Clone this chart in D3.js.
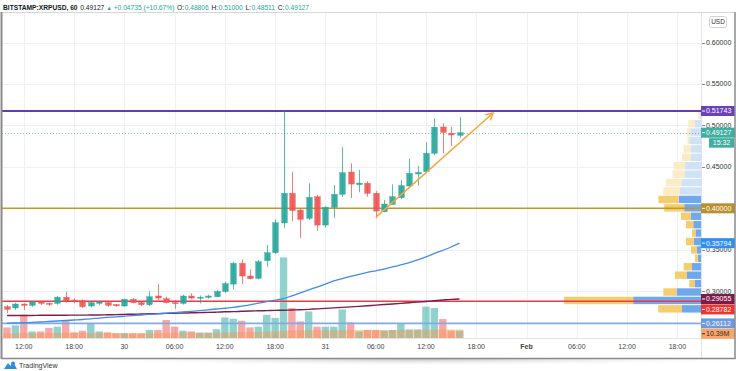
<!DOCTYPE html>
<html><head><meta charset="utf-8">
<script src="https://cdn.jsdelivr.net/npm/d3@7"></script>
<style>html,body{margin:0;padding:0;background:#fff;}svg{display:block;font-family:"Liberation Sans",Arial,sans-serif;}</style>
</head><body><svg id="c" width="736" height="371"></svg>
<script>
// ---------------- DATA ----------------
const symbol = "BITSTAMP:XRPUSD, 60";
const headerLast = "0.49127";
const headerChange = "+0.04735 (+10.67%)";
const headerOHLC = [["O:", "0.48806"], ["H:", "0.51000"], ["L:", "0.48511"], ["C:", "0.49127"]];
const firstCandle = "2021-01-29T10:00:00Z";

const open = [0.2812,0.2797,0.2845,0.2829,0.2869,0.2853,0.2853,0.2926,0.2893,0.2885,0.2821,0.2853,0.2861,0.2839,0.2821,0.2902,0.2861,0.2837,0.2942,0.2909,0.2861,0.2853,0.2942,0.2917,0.2926,0.2933,0.2996,0.3086,0.3336,0.3183,0.3155,0.3368,0.3464,0.3823,0.4181,0.3979,0.3879,0.4140,0.3798,0.4012,0.4169,0.4438,0.4285,0.4302,0.4181,0.3959,0.4048,0.4128,0.4269,0.4414,0.4442,0.4664,0.4981,0.4905,0.48806];
const high = [0.2833,0.2861,0.2853,0.2885,0.2885,0.2861,0.2942,0.2993,0.2914,0.2902,0.2869,0.2885,0.2878,0.2845,0.2909,0.2917,0.2873,0.2998,0.3086,0.2933,0.2893,0.2957,0.2974,0.2950,0.2957,0.3014,0.3114,0.3356,0.3384,0.3264,0.3376,0.3557,0.3867,0.5174,0.4442,0.4000,0.4302,0.4161,0.4028,0.4281,0.4736,0.4543,0.4462,0.4329,0.4209,0.4100,0.4290,0.4342,0.4603,0.4511,0.4797,0.5086,0.5026,0.4985,0.51000];
const low = [0.2736,0.2773,0.2773,0.2812,0.2833,0.2821,0.2837,0.2861,0.2853,0.2797,0.2805,0.2829,0.2812,0.2812,0.2812,0.2853,0.2821,0.2821,0.2893,0.2853,0.2788,0.2837,0.2902,0.2853,0.2909,0.2926,0.2981,0.3022,0.3086,0.3143,0.3143,0.3295,0.3448,0.3759,0.3847,0.3642,0.3859,0.3726,0.3768,0.3883,0.4136,0.4124,0.4193,0.4140,0.3879,0.3952,0.4040,0.4112,0.4257,0.4273,0.4422,0.4643,0.4664,0.4752,0.48511];
const close = [0.2781,0.2845,0.2829,0.2869,0.2853,0.2845,0.2926,0.2885,0.2878,0.2812,0.2861,0.2869,0.2829,0.2823,0.2902,0.2861,0.2837,0.2933,0.2917,0.2861,0.2853,0.2942,0.2917,0.2926,0.2942,0.2998,0.3092,0.3336,0.3183,0.3150,0.3356,0.3464,0.3826,0.4181,0.3973,0.3867,0.4133,0.3798,0.4012,0.4169,0.4430,0.4293,0.4305,0.4181,0.3967,0.4052,0.4140,0.4273,0.4422,0.4434,0.4664,0.4978,0.4917,0.4885,0.49127];
const volume = [12.9,15.4,28.4,8.0,8.0,12.2,13.8,22.0,6.8,8.9,17.8,8.0,6.8,5.6,5.6,5.6,5.6,9.8,9.8,22.0,13.8,8.9,8.0,6.5,6.5,10.7,25.1,23.5,21.1,12.9,13.8,28.4,24.4,98.3,36.6,20.2,32.4,13.8,13.8,13.8,34.9,19.0,8.0,9.8,9.8,8.9,9.8,17.8,10.5,10.5,38.2,36.6,23.2,8.9,8.9];
const volumeMA = [5.6,5.7,5.9,5.9,6.0,6.0,6.1,6.2,6.2,6.2,6.3,6.3,6.3,6.2,6.2,6.1,6.1,6.2,6.2,6.4,6.5,6.5,6.5,6.4,6.4,6.5,6.8,7.1,7.3,7.4,7.5,7.9,8.2,8.9,9.2,9.3,9.5,9.5,9.6,9.6,9.9,10.0,9.9,9.9,9.8,9.7,9.7,9.8,9.8,9.9,10.1,10.3,10.4,10.4,10.39];
const maFast = [0.2612,0.2616,0.2619,0.2624,0.2628,0.2634,0.2640,0.2646,0.2652,0.2658,0.2666,0.2676,0.2683,0.2691,0.2698,0.2705,0.2712,0.2720,0.2727,0.2734,0.2741,0.2749,0.2757,0.2765,0.2775,0.2785,0.2794,0.2804,0.2819,0.2835,0.2855,0.2874,0.2891,0.2911,0.2944,0.2980,0.3016,0.3050,0.3086,0.3123,0.3153,0.3179,0.3203,0.3226,0.3246,0.3267,0.3292,0.3318,0.3346,0.3378,0.3415,0.3455,0.3493,0.3533,0.35794];
const maSlow = [0.2706,0.2706,0.2707,0.2707,0.2709,0.2709,0.2710,0.2710,0.2711,0.2711,0.2712,0.2712,0.2715,0.2717,0.2720,0.2722,0.2724,0.2727,0.2729,0.2732,0.2734,0.2736,0.2739,0.2741,0.2744,0.2747,0.2751,0.2753,0.2757,0.2761,0.2763,0.2765,0.2768,0.2770,0.2773,0.2776,0.2781,0.2787,0.2793,0.2799,0.2805,0.2811,0.2817,0.2824,0.2832,0.2839,0.2846,0.2853,0.2861,0.2868,0.2876,0.2885,0.2893,0.2901,0.29055];

// volume profile rows, top (highest price) to bottom
const vpUp =   [1.4,8.4,15.0,16.4,14.0,14.0,22.4,23.4,26.6,29.4,31.2,23.4,14.0,10.8,7.0,10.2,5.6,4.6,12.6,19.6,8.4,34.0,94.8,26.6];
const vpDown = [2.8,9.4,4.6,2.4,10.2,12.6,15.8,16.4,22.4,23.4,28.4,28.0,14.0,10.2,5.6,10.8,8.4,3.8,11.6,16.8,8.0,18.6,96.6,33.2];
const valueAreaHigh = 0.415;

const priceTicks = [0.30,0.35,0.40,0.45,0.50,0.55,0.60];
const timeTicks = ["2021-01-29T12:00Z","2021-01-29T18:00Z","2021-01-30T00:00Z","2021-01-30T06:00Z","2021-01-30T12:00Z","2021-01-30T18:00Z","2021-01-31T00:00Z","2021-01-31T06:00Z","2021-01-31T12:00Z","2021-01-31T18:00Z","2021-02-01T00:00Z","2021-02-01T06:00Z","2021-02-01T12:00Z","2021-02-01T18:00Z"];
const timeTickLabels = ["12:00","18:00","30","06:00","12:00","18:00","31","06:00","12:00","18:00","Feb","06:00","12:00","18:00"];

const levelValues = [0.51743, 0.40000, 0.28782, 0.26112];
const levelColors = ["#673ab7", "#c4952c", "#f23645", "#82a9ea"];
const trendTimes = ["2021-01-31T06:00Z", "2021-01-31T20:00Z"];
const trendPrices = [0.3891, 0.5150];
const countdown = "15:32";
const volumeMALabel = "10.39M";

// ---------------- LAYOUT ----------------
const L = 2, R = 701, T = 13, B = 338;
const pxPerHour = 8.38;
const up = "#26a69a", down = "#ef5350";
const svg = d3.select("#c");

const t0 = new Date(firstCandle);
const times = open.map((_, i) => d3.utcHour.offset(t0, i));
const hour = 3600e3;
const x = d3.scaleUtc()
  .domain([new Date(+t0 - (7 - L) / pxPerHour * hour), new Date(+t0 + (R - 7) / pxPerHour * hour)])
  .range([L, R]);
const y = d3.scaleLinear().domain([0.2435, 0.6357]).range([B, T]);
const yv = d3.scaleLinear().domain([0, 100]).range([B, B - 82]);

const defs = svg.append("defs");
const rg = defs.append("radialGradient").attr("id", "sh").attr("cx", "50%").attr("cy", "0%").attr("r", "60%");
rg.append("stop").attr("offset", "0%").attr("stop-color", "#bdbdbd").attr("stop-opacity", 0.9);
rg.append("stop").attr("offset", "100%").attr("stop-color", "#ffffff").attr("stop-opacity", 0);
defs.append("clipPath").attr("id", "plot").append("rect").attr("x", L).attr("y", T).attr("width", R - L).attr("height", B - T);

// shadow under frame
svg.append("rect").attr("x", 110).attr("y", 359).attr("width", 620).attr("height", 12).attr("fill", "url(#sh)");

// gridlines
const g = svg.append("g");
g.selectAll(".vg").data(timeTicks).join("line")
  .attr("x1", d => Math.round(x(new Date(d))) + 0.5).attr("x2", d => Math.round(x(new Date(d))) + 0.5)
  .attr("y1", T).attr("y2", B).attr("stroke", "#eef0f4").attr("stroke-width", 1);
g.selectAll(".hg").data(priceTicks).join("line")
  .attr("x1", L).attr("x2", R).attr("y1", d => Math.round(y(d)) + 0.5).attr("y2", d => Math.round(y(d)) + 0.5)
  .attr("stroke", "#eef0f4").attr("stroke-width", 1);

const plot = svg.append("g").attr("clip-path", "url(#plot)");
const bw = 7.4;
// volume bars
plot.selectAll(".vol").data(volume).join("rect")
  .attr("x", (d, i) => x(times[i]) - bw / 2).attr("width", bw)
  .attr("y", d => yv(d)).attr("height", d => B - yv(d))
  .attr("fill", (d, i) => close[i] >= open[i] ? up : down).attr("fill-opacity", 0.5);
// volume MA columns
plot.selectAll(".vma").data(volumeMA).join("rect")
  .attr("x", (d, i) => x(times[i]) - bw / 2 - 0.4).attr("width", bw + 0.8)
  .attr("y", d => yv(d)).attr("height", d => B - yv(d))
  .attr("fill", "rgb(245,150,80)").attr("fill-opacity", 0.45);

// volume profile
const hi = d3.max(high), lo = d3.min(low), nRows = vpUp.length, rowH = (hi - lo) / nRows;
const vpx = d3.scaleLinear().domain([0, d3.max(vpUp.map((u, i) => u + vpDown[i]))]).range([0, 137]);
const vp = plot.append("g");
vpUp.forEach((u, i) => {
  const pTop = hi - i * rowH, pBot = hi - (i + 1) * rowH, inVA = (pTop + pBot) / 2 <= valueAreaHigh;
  const yt = y(pTop) + 0.5, h = y(pBot) - y(pTop) - 1;
  const wu = vpx(u), wd = vpx(vpDown[i]);
  vp.append("rect").attr("x", R - wu).attr("y", yt).attr("width", wu).attr("height", h)
    .attr("fill", inVA ? "#6fa8ec" : "#cfe2f7");
  vp.append("rect").attr("x", R - wu - wd).attr("y", yt).attr("width", wd).attr("height", h)
    .attr("fill", inVA ? "#f6cd6e" : "#fcebc5");
});

// horizontal levels
plot.selectAll(".lvl").data(levelValues).join("line")
  .attr("x1", L).attr("x2", R).attr("y1", d => y(d)).attr("y2", d => y(d))
  .attr("stroke", (d, i) => levelColors[i]).attr("stroke-width", (d, i) => i === 0 ? 2 : 1.6);

// last price dotted line
const lastC = close[close.length - 1];
plot.append("line").attr("x1", L).attr("x2", R).attr("y1", Math.round(y(lastC)) + 0.5).attr("y2", Math.round(y(lastC)) + 0.5)
  .attr("stroke", up).attr("stroke-opacity", 0.6).attr("stroke-dasharray", "1,2");

// moving averages
const line = arr => d3.line().x((d, i) => x(times[i])).y(d => y(d)).curve(d3.curveMonotoneX)(arr);
plot.append("path").attr("d", line(maSlow)).attr("fill", "none").attr("stroke", "#801d4d").attr("stroke-width", 1.4);
plot.append("path").attr("d", line(maFast)).attr("fill", "none").attr("stroke", "#3f8ee8").attr("stroke-width", 1.3);

// candles
const cw = 5.6;
const cg = plot.append("g");
open.forEach((o, i) => {
  const c = close[i], col = c >= o ? up : down, cx = Math.round(x(times[i])) + 0.5;
  cg.append("line").attr("x1", cx).attr("x2", cx).attr("y1", y(high[i])).attr("y2", y(low[i]))
    .attr("stroke", col).attr("stroke-width", 1).attr("stroke-opacity", 0.75);
  const yt = y(Math.max(o, c)), yb = y(Math.min(o, c));
  cg.append("rect").attr("x", cx - cw / 2).attr("y", yt).attr("width", cw).attr("height", Math.max(1, yb - yt))
    .attr("fill", col).attr("stroke", col).attr("stroke-width", 0.4).attr("fill-opacity", 0.9);
});

// trend arrow
const tx = trendTimes.map(d => x(new Date(d))), ty = trendPrices.map(d => y(d));
plot.append("line").attr("x1", tx[0]).attr("y1", ty[0]).attr("x2", tx[1]).attr("y2", ty[1])
  .attr("stroke", "#f7a43a").attr("stroke-width", 1.5);
const ang = Math.atan2(ty[1] - ty[0], tx[1] - tx[0]);
const ah = 8, spread = 0.5;
plot.append("path")
  .attr("d", `M${tx[1] - ah * Math.cos(ang - spread)},${ty[1] - ah * Math.sin(ang - spread)}L${tx[1]},${ty[1]}L${tx[1] - ah * Math.cos(ang + spread)},${ty[1] - ah * Math.sin(ang + spread)}`)
  .attr("fill", "none").attr("stroke", "#f7a43a").attr("stroke-width", 1.5);

// axes separators
svg.append("line").attr("x1", R + 0.5).attr("x2", R + 0.5).attr("y1", T).attr("y2", 358).attr("stroke", "#e0e3eb");
svg.append("line").attr("x1", L).attr("x2", 735).attr("y1", B + 0.5).attr("y2", B + 0.5).attr("stroke", "#e0e3eb");

// price axis ticks
const pa = svg.append("g");
priceTicks.forEach(p => {
  pa.append("line").attr("x1", R + 1).attr("x2", R + 4).attr("y1", Math.round(y(p)) + 0.5).attr("y2", Math.round(y(p)) + 0.5).attr("stroke", "#888");
  pa.append("text").attr("x", 706).attr("y", y(p)).attr("dy", "0.35em").attr("font-size", 7).attr("fill", "#333")
    .text(d3.format(".5f")(p));
});

// time axis labels
svg.selectAll(".tl").data(timeTicks).join("text")
  .attr("x", d => x(new Date(d))).attr("y", 349).attr("text-anchor", "middle").attr("font-size", 7)
  .attr("font-weight", (d, i) => timeTickLabels[i] === "Feb" ? "bold" : "normal")
  .attr("fill", "#444").text((d, i) => timeTickLabels[i]);

// value labels on price axis
const labels = [
  { y: y(levelValues[0]), bg: "#6a41b8", fg: "#fff", t: d3.format(".5f")(levelValues[0]) },
  { y: y(lastC), bg: "#3fae9f", fg: "#fff", t: d3.format(".5f")(lastC), extra: countdown },
  { y: y(levelValues[1]), bg: "#b8902f", fg: "#fff", t: d3.format(".5f")(levelValues[1]) },
  { y: y(maFast[maFast.length - 1]), bg: "#2f8ff0", fg: "#fff", t: d3.format(".5f")(maFast[maFast.length - 1]) },
  { y: y(maSlow[maSlow.length - 1]), bg: "#7d1a4a", fg: "#fff", t: d3.format(".5f")(maSlow[maSlow.length - 1]) },
  { y: y(levelValues[2]), bg: "#ee3431", fg: "#fff", t: d3.format(".5f")(levelValues[2]) },
  { y: y(levelValues[3]), bg: "#6d99e0", fg: "#fff", t: d3.format(".5f")(levelValues[3]) },
  { y: yv(volumeMA[volumeMA.length - 1]), bg: "#f7a66c", fg: "#3a2a1a", t: volumeMALabel }
].sort((a, b) => a.y - b.y);
const lh = 10.4;
for (let i = 1; i < labels.length; i++) {
  const prevH = labels[i - 1].extra ? lh * 2 : lh;
  if (labels[i].y - labels[i - 1].y < prevH) labels[i].y = labels[i - 1].y + prevH;
}
const lg = svg.append("g");
labels.forEach(l => {
  lg.append("rect").attr("x", R).attr("y", l.y - 5).attr("width", 34).attr("height", 10).attr("fill", l.bg);
  lg.append("line").attr("x1", R + 1).attr("x2", R + 4).attr("y1", l.y).attr("y2", l.y).attr("stroke", l.fg);
  lg.append("text").attr("x", 706).attr("y", l.y).attr("dy", "0.35em").attr("font-size", 7).attr("fill", l.fg).text(l.t);
  if (l.extra) {
    lg.append("rect").attr("x", 709).attr("y", l.y + 5.5).attr("width", 25).attr("height", 9.5).attr("fill", l.bg);
    lg.append("text").attr("x", 721.5).attr("y", l.y + 10.3).attr("dy", "0.35em").attr("text-anchor", "middle")
      .attr("font-size", 7).attr("fill", l.fg).text(l.extra);
  }
});

// USD badge
svg.append("rect").attr("x", 709.5).attr("y", 16.5).attr("width", 17).attr("height", 11).attr("rx", 2)
  .attr("fill", "#fff").attr("stroke", "#cfd2d8");
svg.append("text").attr("x", 718).attr("y", 22).attr("dy", "0.35em").attr("text-anchor", "middle").attr("font-size", 6.5).attr("fill", "#333").text("USD");

// frame
svg.append("line").attr("x1", L).attr("x2", 735).attr("y1", T - 0.5).attr("y2", T - 0.5).attr("stroke", "#d5d7dc");
svg.append("line").attr("x1", 1.5).attr("x2", 1.5).attr("y1", T - 1).attr("y2", 359).attr("stroke", "#8a8a8a").attr("stroke-width", 2);
svg.append("line").attr("x1", 735).attr("x2", 735).attr("y1", T - 1).attr("y2", 359).attr("stroke", "#8a8a8a").attr("stroke-width", 1.5);
svg.append("line").attr("x1", 1).attr("x2", 735.5).attr("y1", 358.5).attr("y2", 358.5).attr("stroke", "#8a8a8a").attr("stroke-width", 1.5);

// header: sequential pieces, measured, then narrowed to the reference width
const hg = svg.append("g");
const pieces = [
  { t: symbol, c: "#131722", b: true, gap: 3 },
  { t: headerLast, c: "#131722", gap: 2.5 },
  { t: "\u25B2", c: up, gap: 2 },
  { t: headerChange, c: up, gap: 3 }
];
headerOHLC.forEach(([k, v]) => { pieces.push({ t: k, c: "#131722", gap: 0.6 }); pieces.push({ t: v, c: up, gap: 3 }); });
const fs = 7.4;
let cx0 = 0;
pieces.forEach(p => {
  const el = hg.append("text").attr("x", cx0).attr("y", 0).attr("font-size", p.t === "\u25B2" ? 6 : fs)
    .attr("font-weight", p.b ? "bold" : "normal").attr("fill", p.c).text(p.t);
  cx0 += el.node().getComputedTextLength() + p.gap;
});
const hScale = 306 / (cx0 - 3);
hg.attr("transform", `translate(3,9.5) scale(${hScale},1)`);

// TradingView logo
const logo = svg.append("g").attr("transform", "translate(4,361)");
logo.append("path").attr("d", "M0,8 L4,2 L6.5,5 L9,1 L13,8 Z").attr("fill", "#2a8ee6");
logo.append("circle").attr("cx", 9).attr("cy", 2.5).attr("r", 2).attr("fill", "#2a8ee6");
svg.append("text").attr("x", 19).attr("y", 366).attr("dy", "0.35em").attr("font-size", 7).attr("fill", "#333").text("TradingView");
</script></body></html>
